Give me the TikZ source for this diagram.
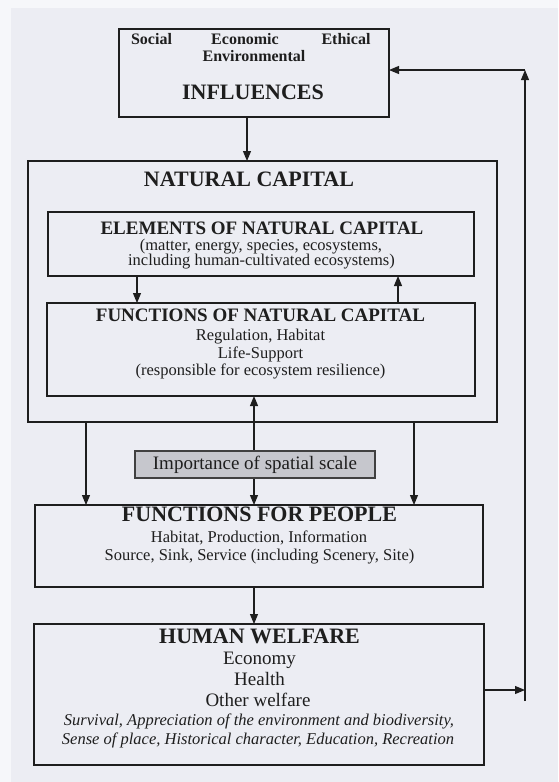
\documentclass[tikz,border=0pt]{standalone}
\usepackage{fontspec}
\setmainfont{Liberation Serif}
\usetikzlibrary{arrows.meta}
\definecolor{bg}{HTML}{ECEDF3}
\definecolor{bgw}{HTML}{F6F7FA}
\definecolor{ink}{HTML}{1E1E1E}
\definecolor{impfill}{HTML}{C6C7CD}
\newcommand\fTop{\fontsize{16}{18}\selectfont\bfseries}
\newcommand\fBig{\fontsize{22}{24}\selectfont\bfseries}
\newcommand\fMid{\fontsize{19}{21}\selectfont\bfseries}
\newcommand\fReg{\fontsize{16.5}{18}\selectfont}
\newcommand\fLrg{\fontsize{19}{21}\selectfont}
\newcommand\fIt{\fontsize{16.5}{18}\selectfont\itshape}
\begin{document}
\begin{tikzpicture}[x=1pt,y=-1pt,
  box/.style={draw=ink,line width=1.2pt,inner sep=0pt,outer sep=0pt},
  arr/.style={draw=ink,line width=1.1pt,-{Triangle[length=10pt,width=8pt]}},
  darr/.style={draw=ink,line width=1.1pt,{Triangle[length=10pt,width=8pt]}-{Triangle[length=10pt,width=8pt]}},
  txt/.style={anchor=mid,inner sep=0pt,text=ink}]
\useasboundingbox (0,0) rectangle (558,782);
\fill[bgw] (0,0) rectangle (558,782);
\fill[bg] (11,8) rectangle (558,782);

% boxes
\node[box,minimum width=270pt,minimum height=88pt] (infl) at (254,73) {};
\node[box,minimum width=469pt,minimum height=261pt] (nc) at (262.5,291.5) {};
\node[box,minimum width=426pt,minimum height=64pt] (elem) at (261,244) {};
\node[box,minimum width=428pt,minimum height=93pt] (fnc) at (261,349.5) {};
\node[box,minimum width=448pt,minimum height=82pt] (ffp) at (259,546) {};
\node[box,minimum width=450pt,minimum height=141pt] (hw) at (259,694.5) {};

% column coordinates
\coordinate (c86) at (86,0);
\coordinate (c137) at (137,0);
\coordinate (c247) at (247,0);
\coordinate (c254) at (254,0);
\coordinate (c398) at (398,0);
\coordinate (c414) at (414,0);
\coordinate (fb) at (525,690);
\coordinate (fbot) at (525,701);
\coordinate (ftop) at (525,70);

% connectors
\draw[arr] (infl.south -| c247) -- (nc.north -| c247);
\draw[arr] (elem.south -| c137) -- (fnc.north -| c137);
\draw[arr] (fnc.north -| c398) -- (elem.south -| c398);
\draw[darr] (fnc.south -| c254) -- (ffp.north -| c254);
\draw[arr] (nc.south -| c86) -- (ffp.north -| c86);
\draw[arr] (nc.south -| c414) -- (ffp.north -| c414);
\draw[arr] (ffp.south -| c254) -- (hw.north -| c254);
\draw[arr] (fb -| hw.east) -- (fb);
\draw[arr] (fbot) -- (ftop);
\draw[arr] (ftop) -- (ftop -| infl.east);

% importance box (over the double arrow)
\node[box,draw=ink!85,fill=impfill,minimum width=240pt,minimum height=27pt,font=\fLrg,text=ink] (imp) at (255,464.5) {Importance of spatial scale};

% texts
\node[txt,font=\fTop] (tsoc) at (151.5,42) {Social};
\node[txt,font=\fTop] (tecon) at (245,42) {Economic};
\node[txt,font=\fTop] (teth) at (346,42) {Ethical};
\node[txt,font=\fTop] (tenv) at (254,59) {Environmental};
\node[txt,font=\fBig] (tinf) at (253,97) {INFLUENCES};

\node[txt,font=\fBig] (tnc) at (249,184) {NATURAL CAPITAL};

\node[txt,font=\fMid] (tel) at (262,232) {ELEMENTS OF NATURAL CAPITAL};
\node[txt,font=\fReg] (tel2) at (261,248) {(matter, energy, species, ecosystems,};
\node[txt,font=\fReg] (tel3) at (261.5,263) {including human-cultivated ecosystems)};

\node[txt,font=\fMid] (tfn) at (260.5,319) {FUNCTIONS OF NATURAL CAPITAL};
\node[txt,font=\fReg] (tfn2) at (260.5,338) {Regulation, Habitat};
\node[txt,font=\fReg] (tfn3) at (260.5,356) {Life-Support};
\node[txt,font=\fReg] (tfn4) at (260.5,373) {(responsible for ecosystem resilience)};

\node[txt,font=\fBig] (tfp) at (259.5,519) {FUNCTIONS FOR PEOPLE};
\node[txt,font=\fReg] (tfp2) at (259,540) {Habitat, Production, Information};
\node[txt,font=\fReg] (tfp3) at (259.5,558) {Source, Sink, Service (including Scenery, Site)};

\node[txt,font=\fBig] (thw) at (259.5,641) {HUMAN WELFARE};
\node[txt,font=\fLrg] (thw2) at (259.5,662) {Economy};
\node[txt,font=\fLrg] (thw3) at (259.5,683) {Health};
\node[txt,font=\fLrg] (thw4) at (258,704) {Other welfare};
\node[txt,font=\fIt] (thw5) at (259,723) {Survival, Appreciation of the environment and biodiversity,};
\node[txt,font=\fIt] (thw6) at (258,742) {Sense of place, Historical character, Education, Recreation};
\end{tikzpicture}
\end{document}
